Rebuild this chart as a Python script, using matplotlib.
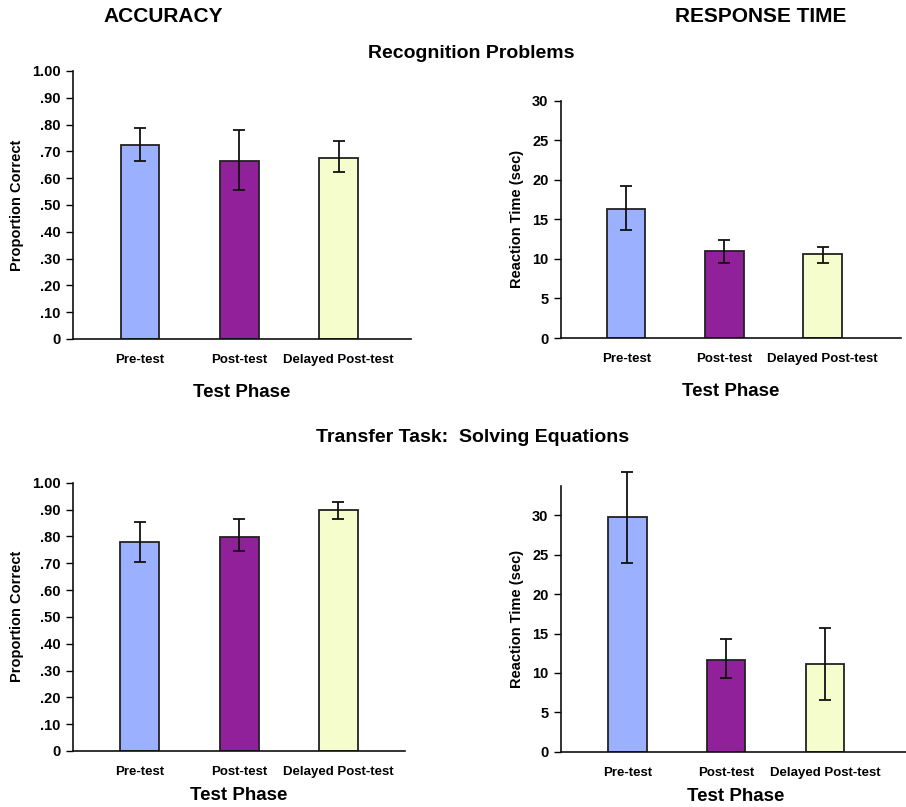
import matplotlib
matplotlib.use("Agg")
import matplotlib.pyplot as plt
import numpy as np

plt.rcParams['font.family'] = ['Liberation Sans', 'DejaVu Sans']
plt.rcParams['font.weight'] = 'bold'

phases = ['Pre-test', 'Post-test', 'Delayed Post-test']
bar_colors = ['#9BB0FF', '#91219A', '#F5FDCC']

# recognition problems
rec_acc = [0.725, 0.665, 0.677]
rec_acc_lo = [0.061, 0.109, 0.054]
rec_acc_hi = [0.061, 0.116, 0.062]
rec_rt = [16.3, 11.0, 10.6]
rec_rt_lo = [2.7, 1.5, 1.1]
rec_rt_hi = [2.9, 1.4, 0.9]

# transfer task
tr_acc = [0.779, 0.799, 0.900]
tr_acc_lo = [0.073, 0.055, 0.034]
tr_acc_hi = [0.076, 0.065, 0.027]
tr_rt = [29.8, 11.6, 11.15]
tr_rt_lo = [5.85, 2.2, 4.6]
tr_rt_hi = [5.65, 2.7, 4.55]

acc_ticks = [0, 0.1, 0.2, 0.3, 0.4, 0.5, 0.6, 0.7, 0.8, 0.9, 1.0]
acc_ticklabels = ['0', '.10', '.20', '.30', '.40', '.50', '.60', '.70', '.80', '.90', '1.00']
rt_ticks = [0, 5, 10, 15, 20, 25, 30]

W, H = 906, 807
fig = plt.figure(figsize=(W / 100, H / 100), dpi=100)


def make_axes(x0, x1, ytop, ybot):
    # pixel box -> figure fraction
    return fig.add_axes([x0 / W, 1 - ybot / H, (x1 - x0) / W, (ybot - ytop) / H])


def draw_panel(ax, vals, lo, hi, xlim, ylim, ticks, ticklabels, ylabel, xpad):
    x = np.arange(len(phases))
    ax.bar(x, vals, width=0.39, color=bar_colors, edgecolor='#222222', linewidth=1.3, zorder=2)
    eb = ax.errorbar(x, vals, yerr=[lo, hi], fmt='none', ecolor='#111111',
                     elinewidth=1.3, capsize=4.5, capthick=1.3, zorder=3)
    for art in eb.lines[1] + eb.lines[2]:
        art.set_clip_on(False)
    ax.set_xlim(*xlim)
    ax.set_ylim(*ylim)
    ax.set_xticks(x)
    ax.set_xticklabels(phases, fontsize=9.5, fontweight='bold')
    ax.tick_params(axis='x', length=0, pad=11)
    ax.set_yticks(ticks)
    ax.set_yticklabels(ticklabels, fontsize=10.5, fontweight='bold')
    ax.tick_params(axis='y', direction='out', length=5, width=1, pad=4)
    for s in ['top', 'right']:
        ax.spines[s].set_visible(False)
    for s in ['left', 'bottom']:
        ax.spines[s].set_linewidth(1.2)
        ax.spines[s].set_color('#111111')
    ax.set_xlabel('Test Phase', fontsize=13.5, fontweight='bold', labelpad=xpad)
    ax.set_ylabel(ylabel, fontsize=10.5, fontweight='bold')


ax1 = make_axes(73, 411, 71, 339)
draw_panel(ax1, rec_acc, rec_acc_lo, rec_acc_hi, (-0.675, 2.73), (0, 1.0),
           acc_ticks, acc_ticklabels, 'Proportion Correct', 13)
ax1.yaxis.set_label_coords(-0.145, 0.5)

ax2 = make_axes(561, 901, 100.7, 338)
draw_panel(ax2, rec_rt, rec_rt_lo, rec_rt_hi, (-0.665, 2.80), (0, 30),
           rt_ticks, [str(t) for t in rt_ticks], 'Reaction Time (sec)', 13)
ax2.yaxis.set_label_coords(-0.108, 0.5)

ax3 = make_axes(73, 405, 482.7, 751)
draw_panel(ax3, tr_acc, tr_acc_lo, tr_acc_hi, (-0.673, 2.67), (0, 1.0),
           acc_ticks, acc_ticklabels, 'Proportion Correct', 6.5)
ax3.yaxis.set_label_coords(-0.148, 0.5)

ax4 = make_axes(561, 910, 485.7, 751.7)
draw_panel(ax4, tr_rt, tr_rt_lo, tr_rt_hi, (-0.67, 2.86), (0, 33.76),
           rt_ticks, [str(t) for t in rt_ticks], 'Reaction Time (sec)', 6.5)
ax4.yaxis.set_label_coords(-0.106, 0.5)

fig.text(163 / W, 1 - 17 / H, 'ACCURACY', ha='center', va='center', fontsize=15, fontweight='bold')
fig.text(761 / W, 1 - 17 / H, 'RESPONSE TIME', ha='center', va='center', fontsize=15, fontweight='bold')
fig.text(471 / W, 1 - 53 / H, 'Recognition Problems', ha='center', va='center', fontsize=14, fontweight='bold')
fig.text(473 / W, 1 - 437 / H, 'Transfer Task:  Solving Equations', ha='center', va='center',
         fontsize=14, fontweight='bold')

fig.savefig('out.png', dpi=100)
